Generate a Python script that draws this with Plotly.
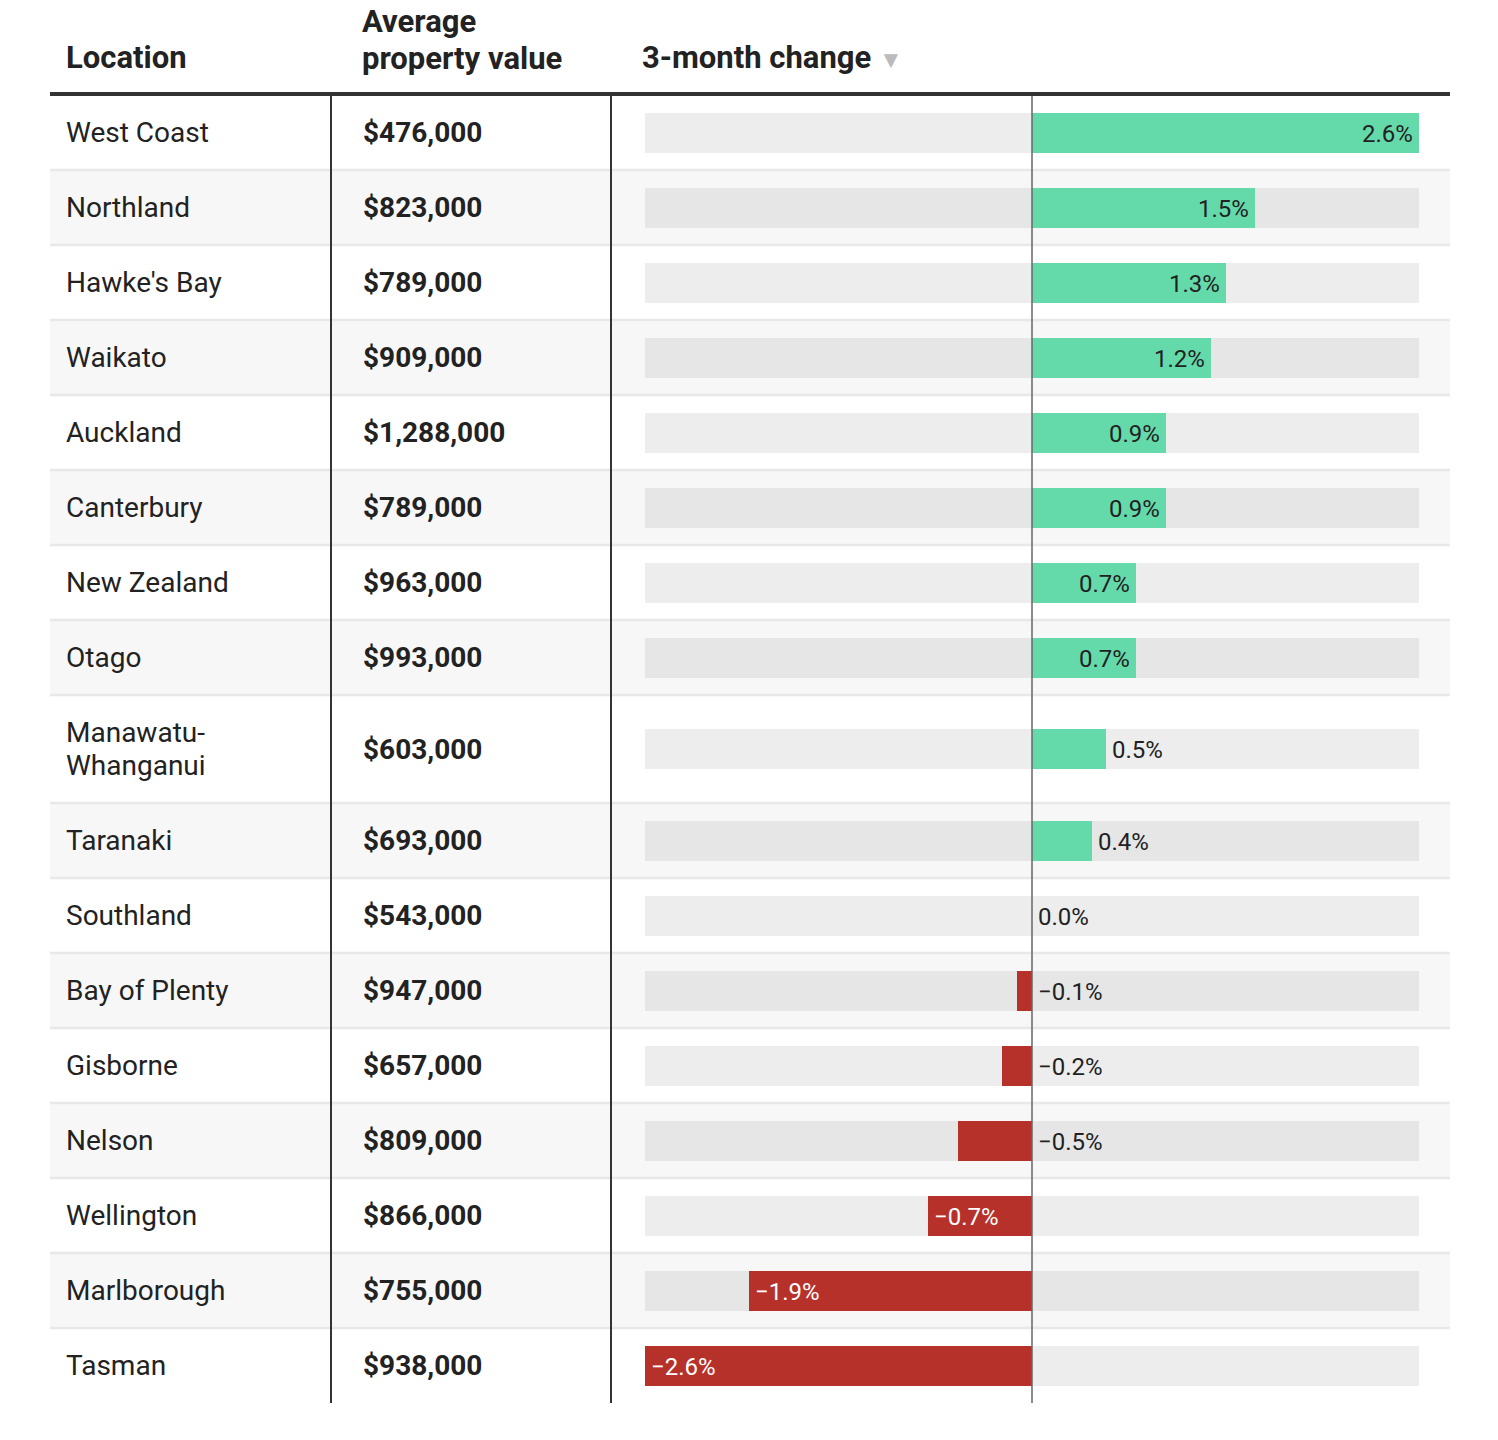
import plotly.graph_objects as go

# ---------------- data ----------------
locations = ["West Coast", "Northland", "Hawke's Bay", "Waikato", "Auckland", "Canterbury",
             "New Zealand", "Otago", "Manawatu-<br>Whanganui", "Taranaki", "Southland",
             "Bay of Plenty", "Gisborne", "Nelson", "Wellington", "Marlborough", "Tasman"]
values = ["$476,000", "$823,000", "$789,000", "$909,000", "$1,288,000", "$789,000",
          "$963,000", "$993,000", "$603,000", "$693,000", "$543,000",
          "$947,000", "$657,000", "$809,000", "$866,000", "$755,000", "$938,000"]
changes = [2.6, 1.5, 1.3, 1.2, 0.9, 0.9, 0.7, 0.7, 0.5, 0.4, 0.0,
           -0.1, -0.2, -0.5, -0.7, -1.9, -2.6]
headers = ["Location", "Average<br>property value", "3-month change"]

# ---------------- layout constants ----------------
W, H = 1498, 1440
FONT = "Roboto"
row_h = [108 if "<br>" in loc else 75 for loc in locations]
tops = []
t = 95
for h in row_h:
    tops.append(t)
    t += h
bottom = t
centers = [tp + h / 2 for tp, h in zip(tops, row_h)]

# bar scale: -2.6 -> px 645, 2.6 -> px 1419 (zero at 1032)
px_lo, px_hi, v_lo, v_hi = 645, 1419, -2.6, 2.6
scale = (px_hi - px_lo) / (v_hi - v_lo)
x_min = v_lo - px_lo / scale
x_max = v_hi + (W - px_hi) / scale


def px(x):
    return x / W


GREEN = "#64d9aa"
RED = "#b7312b"
DARK = "#222222"

fig = go.Figure()

shapes = []
# row backgrounds & separators
for i, (tp, h) in enumerate(zip(tops, row_h)):
    if i % 2 == 1:
        shapes.append(dict(type="rect", xref="paper", yref="y", x0=px(50), x1=px(1450),
                           y0=tp, y1=tp + h, fillcolor="#f7f7f7", line_width=0, layer="below"))
    if i > 0:
        shapes.append(dict(type="line", xref="paper", yref="y", x0=px(50), x1=px(1450),
                           y0=tp, y1=tp, line=dict(color="#e8e8e8", width=2.5), layer="below"))

# track bars
track_colors = ["#e6e6e6" if i % 2 == 1 else "#ededed" for i in range(len(locations))]
fig.add_trace(go.Bar(orientation="h", y=centers, x=[v_hi - v_lo] * len(centers), base=v_lo,
                     width=40, marker=dict(color=track_colors, line_width=0),
                     hoverinfo="skip", showlegend=False))
# value bars
fig.add_trace(go.Bar(orientation="h", y=centers, x=changes, base=0, width=40,
                     marker=dict(color=[GREEN if c >= 0 else RED for c in changes], line_width=0),
                     hoverinfo="skip", showlegend=False))

# lines on top of bars
shapes.append(dict(type="line", xref="paper", yref="y", x0=px(50), x1=px(1450), y0=94, y1=94,
                   line=dict(color="#333333", width=4)))
for xv in (331, 611):
    shapes.append(dict(type="line", xref="paper", yref="y", x0=px(xv), x1=px(xv), y0=96, y1=bottom,
                       line=dict(color="#333333", width=2)))
shapes.append(dict(type="line", xref="x", yref="y", x0=0, x1=0, y0=96, y1=bottom,
                   line=dict(color="#666666", width=1.5)))

ann = []
# headers
ann.append(dict(xref="paper", yref="y", x=px(64), y=57, text="<b>" + headers[0] + "</b>",
                xanchor="left", yanchor="middle", showarrow=False,
                font=dict(family=FONT, size=31, color=DARK)))
for k, line in enumerate(headers[1].split("<br>")):
    ann.append(dict(xref="paper", yref="y", x=px(360), y=21 + 37 * k, text="<b>" + line + "</b>",
                    xanchor="left", yanchor="middle", showarrow=False, align="left",
                    font=dict(family=FONT, size=31, color=DARK)))
ann.append(dict(xref="paper", yref="y", x=px(640), y=57,
                text="<b>" + headers[2] + "</b> <span style='color:#bbbbbb;font-size:24px'>▼</span>",
                xanchor="left", yanchor="middle", showarrow=False,
                font=dict(family=FONT, size=31, color=DARK)))

for loc, val, c, cy in zip(locations, values, changes, centers):
    parts = loc.split("<br>")
    n = len(parts)
    for k, line in enumerate(parts):
        ann.append(dict(xref="paper", yref="y", x=px(64), y=cy + (k - (n - 1) / 2) * 33, text=line,
                        xanchor="left", yanchor="middle", showarrow=False, align="left",
                        font=dict(family=FONT, size=28, color=DARK)))
    ann.append(dict(xref="paper", yref="y", x=px(361), y=cy, text="<b>" + val + "</b>",
                    xanchor="left", yanchor="middle", showarrow=False,
                    font=dict(family=FONT, size=28, color=DARK)))
    label = ("%.1f%%" % c).replace("-", "\u2212")
    if c >= 0.7:
        a = dict(x=c, xanchor="right", xshift=-4, color=DARK)
    elif c <= -0.7:
        a = dict(x=c, xanchor="left", xshift=4, color="white")
    elif c >= 0:
        a = dict(x=c, xanchor="left", xshift=4, color=DARK)
    else:
        a = dict(x=0, xanchor="left", xshift=4, color=DARK)
    ann.append(dict(xref="x", yref="y", x=a["x"], y=cy + 1, text=label, xanchor=a["xanchor"],
                    xshift=a["xshift"], yanchor="middle", showarrow=False,
                    font=dict(family=FONT, size=24, color=a["color"])))

fig.update_layout(
    width=W, height=H, margin=dict(l=0, r=0, t=0, b=0),
    paper_bgcolor="white", plot_bgcolor="rgba(0,0,0,0)",
    barmode="overlay", bargap=0,
    xaxis=dict(range=[x_min, x_max], visible=False, fixedrange=True),
    yaxis=dict(range=[H, 0], visible=False, fixedrange=True),
    shapes=shapes, annotations=ann, showlegend=False,
)

fig.write_html("out.html", config={"displayModeBar": False},
               post_script="document.body.style.margin='0';document.body.style.overflow='hidden';")
